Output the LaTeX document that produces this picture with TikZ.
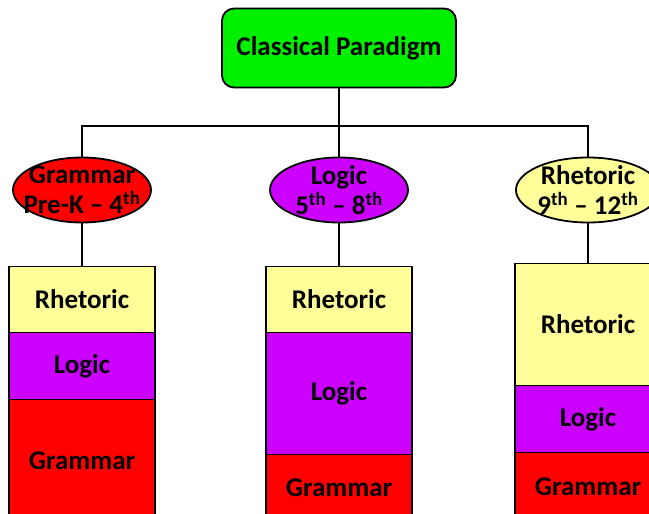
\documentclass[tikz,border=0pt]{standalone}
\usepackage{fontspec}
\setmainfont{Carlito}
\usetikzlibrary{positioning,shapes.geometric}
\definecolor{topgreen}{RGB}{0,240,0}
\definecolor{stagered}{RGB}{255,0,0}
\definecolor{stagepurple}{RGB}{204,0,255}
\definecolor{stageyellow}{RGB}{255,255,153}
\begin{document}
\begin{tikzpicture}[
        x = 1pt, y = -1pt, % pixel grid, y going down
        line width = 1.8pt, % line style
        font = \bfseries\fontsize{27}{30}\selectfont,
        stage/.style = {ellipse, draw, minimum width=138pt, minimum height=65pt, inner xsep=-16pt, inner ysep=-12pt, align=center},
        tier/.style = {draw, minimum width=146pt, inner sep=0pt, outer sep=0pt},
    ]
    \useasboundingbox (0,0) rectangle (649,514);
    \clip (0,0) rectangle (649,514);
    \node[draw, rounded corners=12pt, fill=topgreen, minimum width=234pt, minimum height=79pt] (top) at (339,48) {Classical Paradigm};
    \coordinate (bar) at (339,126);
    \node[stage, fill=stagered] (gramStage) at (82,190) {Grammar\\Pre-K -- 4\textsuperscript{th}};
    \node[stage, fill=stagepurple] (logStage) at (339,190) {Logic\\5\textsuperscript{th} -- 8\textsuperscript{th}};
    \node[stage, fill=stageyellow, minimum width=144pt] (rhetStage) at (588,190) {Rhetoric\\9\textsuperscript{th} -- 12\textsuperscript{th}};
    % left column
    \node[tier, fill=stageyellow, minimum height=66pt, below=43pt of gramStage] (rhetL) {Rhetoric};
    \node[tier, fill=stagepurple, minimum height=67pt, below=0pt of rhetL] (logL) {Logic};
    \node[tier, fill=stagered, minimum height=122pt, below=0pt of logL] (gramL) {Grammar};
    % middle column
    \node[tier, fill=stageyellow, minimum height=66pt, below=43pt of logStage] (rhetM) {Rhetoric};
    \node[tier, fill=stagepurple, minimum height=122pt, below=0pt of rhetM] (logM) {Logic};
    \node[tier, fill=stagered, minimum height=67pt, below=0pt of logM] (gramM) {Grammar};
    % right column
    \node[tier, fill=stageyellow, minimum height=122pt, below=40pt of rhetStage] (rhetR) {Rhetoric};
    \node[tier, fill=stagepurple, minimum height=67pt, below=0pt of rhetR] (logR) {Logic};
    \node[tier, fill=stagered, minimum height=68pt, below=0pt of logR] (gramR) {Grammar};
    \draw (top) -- (bar);
    \draw (gramStage) |- (bar) -| (rhetStage);
    \draw (bar) -- (logStage);
    \draw (gramStage) -- (rhetL);
    \draw (logStage) -- (rhetM);
    \draw (rhetStage) -- (rhetR);
\end{tikzpicture}
\end{document}
